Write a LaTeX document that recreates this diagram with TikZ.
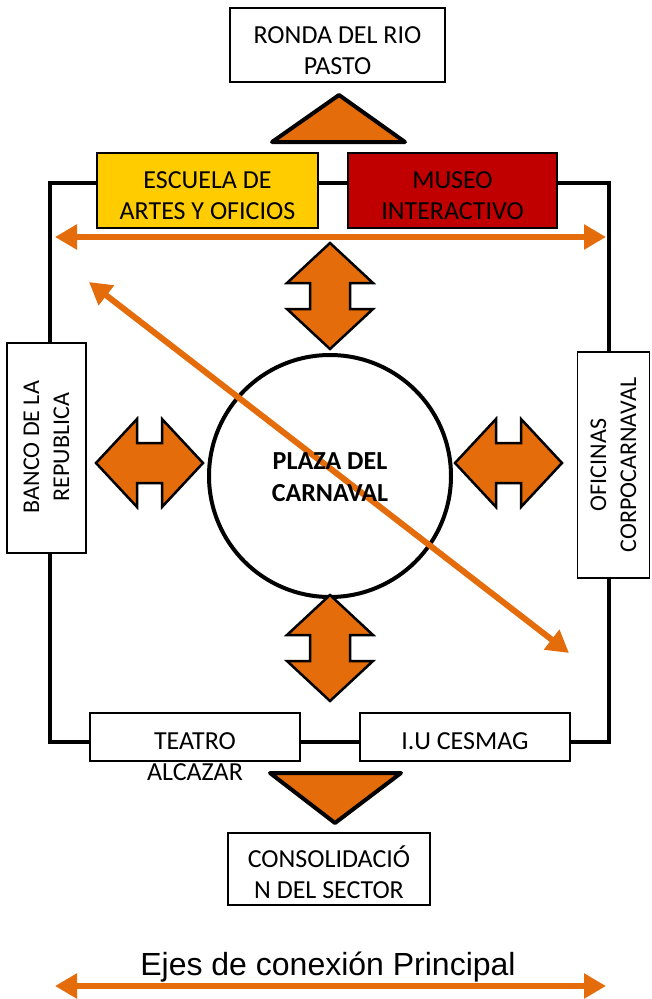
\documentclass[tikz,border=0pt]{standalone}
\usepackage{fontspec}
\newfontfamily\carlito{Carlito}
\newfontfamily\arialf{Liberation Sans}
\usetikzlibrary{arrows.meta}
\definecolor{orng}{HTML}{E46C0A}
\definecolor{ylw}{HTML}{FFCC00}
\definecolor{dred}{HTML}{C00000}
\tikzset{
  box/.style={draw=black, line width=1.3pt, fill=white, inner sep=0pt},
  boxtext/.style={inner sep=0pt, align=center, font=\carlito\fontsize{26}{31}\selectfont},
  sidetext/.style={inner sep=0pt, align=center, font=\carlito\fontsize{24}{30}\selectfont},
  frameline/.style={line width=4pt, black},
  axis/.style={draw=orng, line width=6pt, {Triangle[length=22pt,width=24pt]}-{Triangle[length=22pt,width=24pt]}},
  arrowshape/.style={draw=black, fill=orng, line width=2.5pt, line join=miter},
  triangleshape/.style={draw=black, fill=orng, line width=4pt, line join=round},
  dblv/.pic={\path[arrowshape] (0,0) -- (43,40) -- (20,40) -- (20,66) -- (43,66) -- (0,106) -- (-43,66) -- (-20,66) -- (-20,40) -- (-43,40) -- cycle;},
  dblh/.pic={\path[arrowshape] (0,0) -- (41,-44) -- (41,-20) -- (66,-20) -- (66,-44) -- (107,0) -- (66,44) -- (66,20) -- (41,20) -- (41,44) -- cycle;}
}
\begin{document}
\begin{tikzpicture}[x=1pt,y=-1pt]
\useasboundingbox (0,0) rectangle (651,999);
\fill[white] (0,0) rectangle (651,999);

% frame
\draw[frameline] (50,183) rectangle (609,742);

% top
\node[box, minimum width=215pt, minimum height=74pt,
  label={[boxtext, yshift=-6pt]center:{RONDA DEL RIO\\PASTO}}] (ronda) at (337.5,45) {};
\path[triangleshape] (339,95) -- (405,142) -- (272,142) -- cycle;

\node[box, fill=ylw, minimum width=221pt, minimum height=75pt,
  label={[boxtext, yshift=-5pt]center:{ESCUELA DE\\ARTES Y OFICIOS}}] (escuela) at (207.5,190.5) {};
\node[box, fill=dred, minimum width=209pt, minimum height=75pt,
  label={[boxtext, yshift=-5pt]center:{MUSEO\\INTERACTIVO}}] (museo) at (452.5,190.5) {};

% side boxes
\node[box, minimum width=79pt, minimum height=210pt,
  label={[sidetext, rotate=90, xshift=1pt]center:{BANCO DE LA\\REPUBLICA}}] (banco) at (46.5,448) {};
\node[box, minimum width=72pt, minimum height=226pt,
  label={[sidetext, rotate=90]center:{OFICINAS\\CORPOCARNAVAL}}] (oficinas) at (613.5,465) {};

% bottom boxes
\node[box, minimum width=210pt, minimum height=48pt] (teatro) at (195,737) {};
\node[boxtext] (teatrotext) at (195,757) {TEATRO\\ALCAZAR};
\node[box, minimum width=210pt, minimum height=48pt,
  label={[boxtext, yshift=-4pt]center:{I.U CESMAG}}] (cesmag) at (465,737) {};

\path[triangleshape] (270,773) -- (401,773) -- (335,823) -- cycle;
\node[box, minimum width=202pt, minimum height=72pt,
  label={[boxtext, yshift=-3pt]center:{CONSOLIDACIÓ\\N DEL SECTOR}}] (conso) at (329,869) {};

% plaza
\node[draw=black, line width=4pt, circle, minimum size=242pt, inner sep=0pt, fill=white] (plaza) at (330,476) {};

% double arrows
\pic at (330,243) {dblv};
\pic at (330,595) {dblv};
\pic at (96,463) {dblh};
\pic at (455,463) {dblh};

% axes
\coordinate (hl) at (55,237);
\coordinate (hr) at (606,237);
\draw[axis] (hl) -- (hr);
\coordinate (dl) at (89,282);
\coordinate (dr) at (569,653);
\draw[axis] (dl) -- (dr);

\node[inner sep=0pt, align=center, font=\carlito\bfseries\fontsize{26}{32}\selectfont, yshift=-1pt] (plazatext) at (plaza.center) {PLAZA DEL\\CARNAVAL};

% legend
\node[inner sep=0pt, font=\arialf\fontsize{32}{36}\selectfont] (legend) at (328,967) {Ejes de conexión Principal};
\coordinate (ll) at (55,986);
\coordinate (lr) at (606,986);
\draw[axis] (ll) -- (lr);
\end{tikzpicture}
\end{document}
